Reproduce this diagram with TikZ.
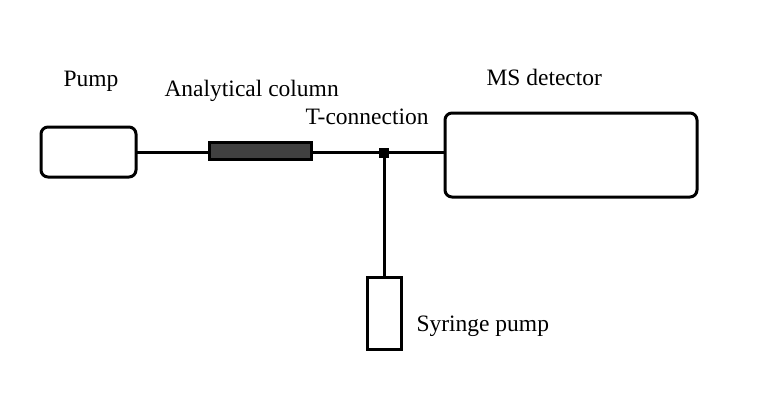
\documentclass[tikz,border=0pt]{standalone}
\usepackage{fontspec}
\setmainfont{Liberation Serif}
\begin{document}
\begin{tikzpicture}[x=1pt,y=-1pt,
  line width=3pt,
  unit/.style={draw=black, rounded corners=7pt, fill=white},
  lbl/.style={font=\fontsize{23.5}{28}\selectfont, inner sep=0pt, anchor=base west},
  pipe/.style={draw=black}
]
\useasboundingbox (0,0) rectangle (765,407);
\fill[white] (0,0) rectangle (765,407);
% boxes
\draw[unit] (41,127) rectangle (136,177);
\coordinate (pumpR) at (136,152.5);
\draw[unit] (445,113) rectangle (697,197);
\coordinate (msL) at (445,152.5);
\draw[pipe, fill=black!75] (209,142) rectangle (311,159);
\coordinate (colL) at (209,152.5);
\coordinate (colR) at (311,152.5);
\draw[pipe, fill=white] (367,277) rectangle (401,349);
\coordinate (syrT) at (384,277);
\node[fill=black, minimum size=10pt, inner sep=0pt, outer sep=0pt] (T) at (384,152.5) {};
% connectors
\draw[pipe] (pumpR) -- (colL);
\draw[pipe] (colR) -- (T.west);
\draw[pipe] (T.east) -- (msL);
\draw[pipe] (T.south) -- (syrT);
% labels
\node[lbl] (lp) at (62,86) {Pump};
\node[lbl] (lc) at (163,96) {Analytical column};
\node[lbl] (lt) at (304,124) {T-connection};
\node[lbl] (lm) at (485,85) {MS detector};
\node[lbl] (ls) at (415,331) {Syringe pump};
\end{tikzpicture}
\end{document}
